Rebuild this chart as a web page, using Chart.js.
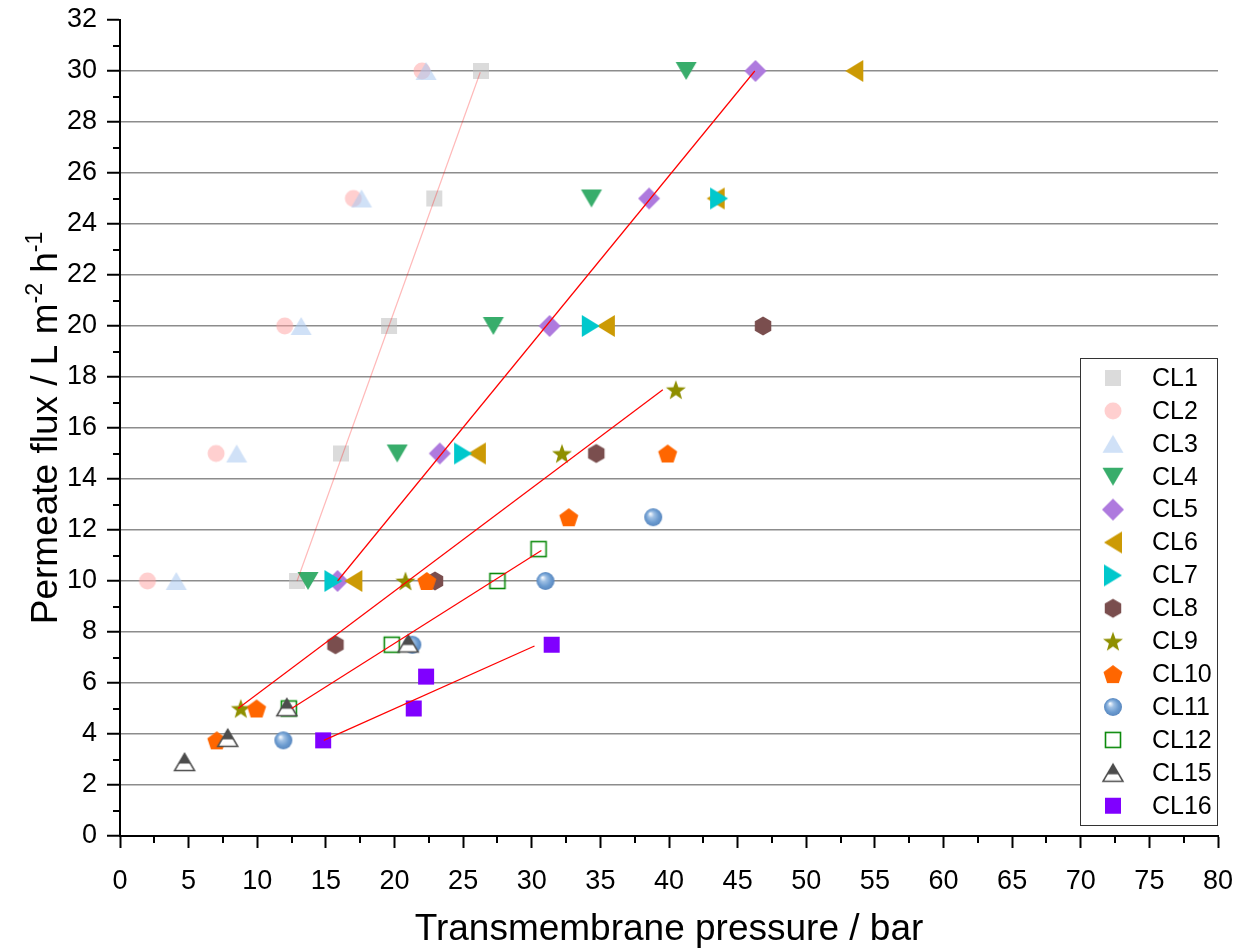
<!DOCTYPE html>
<html>
<head>
<meta charset="utf-8">
<title>Permeate flux vs transmembrane pressure</title>
<script src="https://cdn.jsdelivr.net/npm/chart.js@4.4.1/dist/chart.umd.min.js"></script>
<style>
	html, body { margin: 0; padding: 0; background: #fff; }
	#wrap { width: 1239px; height: 948px; }
</style>
</head>
<body>
<div id="wrap"><canvas id="flux-chart" width="1239" height="948"></canvas></div>
<script>

// series names (legend order)
var seriesNames = ["CL1", "CL2", "CL3", "CL4", "CL5", "CL6", "CL7", "CL8", "CL9", "CL10", "CL11", "CL12", "CL15", "CL16"];

// transmembrane pressure (bar) / permeate flux (L m-2 h-1)
var cl1X = [12.9, 16.1, 19.6, 22.9, 26.3];
var cl1Y = [10, 15, 20, 25, 30];
var cl2X = [2.0, 7.0, 12.0, 17.0, 22.0];
var cl2Y = [10, 15, 20, 25, 30];
var cl3X = [4.1, 8.5, 13.2, 17.6, 22.3];
var cl3Y = [10, 15, 20, 25, 30];
var cl4X = [13.7, 20.2, 27.2, 34.35, 41.25];
var cl4Y = [10, 15, 20, 25, 30];
var cl5X = [15.85, 23.3, 31.3, 38.55, 46.3];
var cl5Y = [10, 15, 20, 25, 30];
var cl6X = [17.0, 26.0, 35.4, 43.4, 53.5];
var cl6Y = [10, 15, 20, 25, 30];
var cl7X = [15.55, 25.0, 34.3, 43.65];
var cl7Y = [10, 15, 20, 25];
var cl8X = [15.7, 22.95, 34.7, 46.85];
var cl8Y = [7.5, 10, 15, 20];
var cl9X = [8.8, 20.8, 32.2, 40.5];
var cl9Y = [5, 10, 15, 17.5];
var cl10X = [7.05, 9.95, 22.35, 32.7, 39.9];
var cl10Y = [3.75, 5, 10, 12.5, 15];
var cl11X = [11.9, 21.3, 31.0, 38.85];
var cl11Y = [3.75, 7.5, 10, 12.5];
var cl12X = [12.3, 19.8, 27.5, 30.5];
var cl12Y = [5, 7.5, 10, 11.25];
var cl15X = [4.7, 7.85, 12.15, 21.0];
var cl15Y = [2.9, 3.85, 5.05, 7.55];
var cl16X = [14.8, 21.4, 22.3, 31.45];
var cl16Y = [3.75, 5, 6.25, 7.5];

// linear fit segments (start, end)
var fitCL1X = [12.9, 26.25];
var fitCL1Y = [10, 29.95];
var fitCL5X = [15.85, 46.25];
var fitCL5Y = [10, 30];
var fitCL9X = [8.6, 39.55];
var fitCL9Y = [5, 17.5];
var fitCL12X = [12.5, 30.7];
var fitCL12Y = [5, 11.2];
var fitCL16X = [14.85, 30.2];
var fitCL16Y = [3.75, 7.45];

// axis ticks
var xTicks = [0, 5, 10, 15, 20, 25, 30, 35, 40, 45, 50, 55, 60, 65, 70, 75, 80];
var yTicks = [0, 2, 4, 6, 8, 10, 12, 14, 16, 18, 20, 22, 24, 26, 28, 30, 32];

var FONT = "'Liberation Sans', Arial, sans-serif";

function toPoints(xs, ys) {
	var pts = [];
	for (var i = 0; i < xs.length; i++) {
		pts.push({ x : xs[i], y : ys[i] });
	}
	return pts;
}

/**
 * small offscreen canvases used as point styles
 */
function polygon(ctx, pts) {
	ctx.beginPath();
	ctx.moveTo(pts[0][0], pts[0][1]);
	for (var i = 1; i < pts.length; i++) ctx.lineTo(pts[i][0], pts[i][1]);
	ctx.closePath();
}

function regular(ctx, c, n, r, startDeg) {
	var pts = [];
	for (var i = 0; i < n; i++) {
		var a = (startDeg + i * 360 / n) * Math.PI / 180;
		pts.push([c + r * Math.cos(a), c + r * Math.sin(a)]);
	}
	polygon(ctx, pts);
}

function marker(kind, color) {
	var cv = document.createElement("canvas");
	cv.width = 26;
	cv.height = 26;
	var ctx = cv.getContext("2d");
	var c = 13;
	ctx.fillStyle = color;
	ctx.strokeStyle = color;

	if (kind == "square") {
		ctx.fillRect(c - 8, c - 8, 16, 16);
	}
	else if (kind == "circle") {
		ctx.beginPath();
		ctx.arc(c, c, 8.5, 0, Math.PI * 2);
		ctx.fill();
	}
	else if (kind == "up") {
		polygon(ctx, [[c, c - 9], [c + 10.5, c + 9], [c - 10.5, c + 9]]);
		ctx.fill();
	}
	else if (kind == "down") {
		polygon(ctx, [[c - 10.5, c - 9], [c + 10.5, c - 9], [c, c + 9]]);
		ctx.fill();
	}
	else if (kind == "diamond") {
		polygon(ctx, [[c, c - 11], [c + 11, c], [c, c + 11], [c - 11, c]]);
		ctx.fill();
	}
	else if (kind == "left") {
		polygon(ctx, [[c - 9, c], [c + 9, c - 11], [c + 9, c + 11]]);
		ctx.fill();
	}
	else if (kind == "right") {
		polygon(ctx, [[c + 9, c], [c - 9, c - 11], [c - 9, c + 11]]);
		ctx.fill();
	}
	else if (kind == "hexagon") {
		regular(ctx, c, 6, 9.5, -90);
		ctx.fill();
	}
	else if (kind == "pentagon") {
		ctx.translate(0, 1);
		regular(ctx, c, 5, 10, -90);
		ctx.fill();
	}
	else if (kind == "star") {
		var pts = [];
		for (var i = 0; i < 10; i++) {
			var r = (i % 2 == 0) ? 10.5 : 4.3;
			var a = (-90 + i * 36) * Math.PI / 180;
			pts.push([c + r * Math.cos(a), c + 1 + r * Math.sin(a)]);
		}
		polygon(ctx, pts);
		ctx.fill();
	}
	else if (kind == "sphere") {
		var g = ctx.createRadialGradient(c - 3, c - 3.5, 0.5, c, c, 9);
		g.addColorStop(0, "#f4f8fd");
		g.addColorStop(0.3, "#9fc0e4");
		g.addColorStop(0.7, "#6b9bd0");
		g.addColorStop(1, "#5a88bf");
		ctx.fillStyle = g;
		ctx.beginPath();
		ctx.arc(c, c, 9, 0, Math.PI * 2);
		ctx.fill();
	}
	else if (kind == "openSquare") {
		ctx.lineWidth = 1.6;
		ctx.strokeRect(c - 7.5, c - 7.5, 15, 15);
	}
	else if (kind == "halfUp") {
		polygon(ctx, [[c, c - 8.5], [c + 10, c + 8.5], [c - 10, c + 8.5]]);
		ctx.fillStyle = "#fff";
		ctx.fill();
		ctx.save();
		ctx.clip();
		ctx.fillStyle = color;
		ctx.fillRect(0, 0, 26, c + 1.5);
		ctx.restore();
		ctx.lineWidth = 1.5;
		polygon(ctx, [[c, c - 8.5], [c + 10, c + 8.5], [c - 10, c + 8.5]]);
		ctx.stroke();
	}
	return cv;
}

var seriesX = [cl1X, cl2X, cl3X, cl4X, cl5X, cl6X, cl7X, cl8X, cl9X, cl10X, cl11X, cl12X, cl15X, cl16X];
var seriesY = [cl1Y, cl2Y, cl3Y, cl4Y, cl5Y, cl6Y, cl7Y, cl8Y, cl9Y, cl10Y, cl11Y, cl12Y, cl15Y, cl16Y];
var shapes = ["square", "circle", "up", "down", "diamond", "left", "right", "hexagon", "star", "pentagon", "sphere", "openSquare", "halfUp", "square"];
var colors = ["rgba(190,190,190,0.55)", "rgba(255,160,160,0.5)", "rgba(170,200,240,0.55)", "#38ad6b", "#ae7ade",
	"#cc9a04", "#00c8cc", "#7a4e4e", "#8f8f00", "#ff6600", "#6699cc", "#0b8a0b", "#4d4d4d", "#8000ff"];

var datasets = [];
for (var i = 0; i < seriesNames.length; i++) {
	datasets.push({
		label : seriesNames[i],
		data : toPoints(seriesX[i], seriesY[i]),
		pointStyle : marker(shapes[i], colors[i]),
		pointRadius : 9,
		showLine : false,
		order : 100 - i
	});
}

var fits = [
	[fitCL1X, fitCL1Y, "rgba(255,0,0,0.28)"],
	[fitCL5X, fitCL5Y, "#ff0000"],
	[fitCL9X, fitCL9Y, "#ff0000"],
	[fitCL12X, fitCL12Y, "#ff0000"],
	[fitCL16X, fitCL16Y, "#ff0000"]
];
for (var j = 0; j < fits.length; j++) {
	datasets.push({
		label : "fit",
		data : toPoints(fits[j][0], fits[j][1]),
		showLine : true,
		borderColor : fits[j][2],
		borderWidth : 1.2,
		pointRadius : 0,
		fill : false,
		order : 0
	});
}

// minor ticks, axis titles and the legend box
var extras = {
	id : "extras",
	afterDraw : function(chart) {
		var ctx = chart.ctx;
		var area = chart.chartArea;
		var xs = chart.scales.x;
		var ys = chart.scales.y;

		ctx.save();
		ctx.strokeStyle = "#000";
		ctx.lineWidth = 2;
		ctx.beginPath();
		for (var v = 1; v < 32; v += 2) {
			var py = Math.round(ys.getPixelForValue(v));
			ctx.moveTo(area.left, py);
			ctx.lineTo(area.left - 7, py);
		}
		for (var u = 2.5; u < 80; u += 5) {
			var px = Math.round(xs.getPixelForValue(u));
			ctx.moveTo(px, area.bottom);
			ctx.lineTo(px, area.bottom + 7);
		}
		ctx.stroke();

		// x title
		ctx.fillStyle = "#000";
		ctx.font = "37px " + FONT;
		ctx.textAlign = "center";
		ctx.textBaseline = "alphabetic";
		ctx.fillText("Transmembrane pressure / bar", (area.left + area.right) / 2, 940);

		// y title with superscripts
		var parts = [
			["Permeate flux / L m", 37, 0],
			["-2", 23, -15],
			[" h", 37, 0],
			["-1", 23, -15]
		];
		var total = 0;
		for (var k = 0; k < parts.length; k++) {
			ctx.font = parts[k][1] + "px " + FONT;
			parts[k].push(ctx.measureText(parts[k][0]).width);
			total += parts[k][3];
		}
		ctx.translate(57, (area.top + area.bottom) / 2);
		ctx.rotate(-Math.PI / 2);
		ctx.textAlign = "left";
		var pos = -total / 2;
		for (var k2 = 0; k2 < parts.length; k2++) {
			ctx.font = parts[k2][1] + "px " + FONT;
			ctx.fillText(parts[k2][0], pos, parts[k2][2]);
			pos += parts[k2][3];
		}
		ctx.restore();

		// legend
		ctx.save();
		var bx = area.right - 138, by = 358, bw = 137, bh = 467;
		ctx.fillStyle = "#fff";
		ctx.fillRect(bx, by, bw, bh);
		ctx.strokeStyle = "#333";
		ctx.lineWidth = 1;
		ctx.strokeRect(bx + 0.5, by + 0.5, bw, bh);
		ctx.font = "25px " + FONT;
		ctx.fillStyle = "#000";
		ctx.textAlign = "left";
		ctx.textBaseline = "middle";
		for (var n = 0; n < seriesNames.length; n++) {
			var ry = by + 20 + n * 32.9;
			var img = chart.data.datasets[n].pointStyle;
			ctx.drawImage(img, bx + 33 - img.width / 2, ry - img.height / 2);
			ctx.fillText(seriesNames[n], bx + 72, ry + 1);
		}
		ctx.restore();
	}
};

Chart.defaults.font.family = FONT;

var ctx = document.getElementById("flux-chart");

var chart = new Chart(ctx, {
	type : "scatter",
	data : { datasets : datasets },
	options : {
		responsive : false,
		animation : false,
		events : [],
		layout : { padding : { left : 0, top : 20, right : 21, bottom : 0 } },
		plugins : {
			legend : { display : false },
			tooltip : { enabled : false }
		},
		scales : {
			x : {
				type : "linear",
				position : "bottom",
				min : 0,
				max : 80,
				afterBuildTicks : function(scale) {
					scale.ticks = xTicks.map(function(v) { return { value : v }; });
				},
				afterFit : function(scale) {
					scale.height = 112;
					scale.paddingLeft = 0;
					scale.paddingRight = 0;
				},
				ticks : {
					font : { size : 27 },
					color : "#000",
					padding : 17,
					maxRotation : 0
				},
				grid : {
					drawOnChartArea : false,
					drawTicks : true,
					tickLength : 12,
					tickWidth : 2,
					tickColor : "#000"
				},
				border : { display : true, color : "#000", width : 2 }
			},
			y : {
				type : "linear",
				min : 0,
				max : 32,
				afterBuildTicks : function(scale) {
					scale.ticks = yTicks.map(function(v) { return { value : v }; });
				},
				afterFit : function(scale) {
					scale.width = 120;
					scale.paddingTop = 0;
					scale.paddingBottom = 0;
				},
				ticks : {
					font : { size : 27 },
					color : "#000",
					padding : 10
				},
				grid : {
					color : function(c) {
						if (c.tick && (c.tick.value === 0 || c.tick.value === 32)) return "rgba(0,0,0,0)";
						return "#8c8c8c";
					},
					lineWidth : 1.5,
					tickLength : 13,
					tickWidth : 2,
					tickColor : "#000"
				},
				border : { display : true, color : "#000", width : 2 }
			}
		}
	},
	plugins : [extras]
});
</script>
</body>
</html>
